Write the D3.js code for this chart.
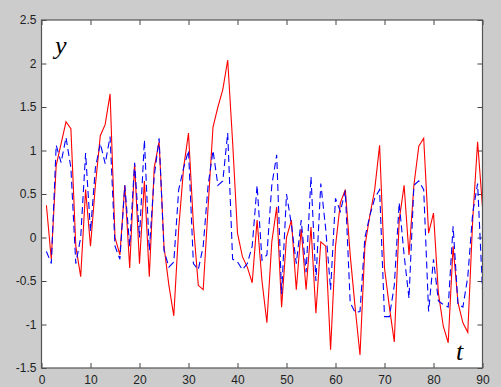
<!DOCTYPE html>
<html>
<head>
<meta charset="utf-8">
<script src="https://cdn.jsdelivr.net/npm/d3@7"></script>
<style>
  html, body { margin: 0; padding: 0; background: #cccccc; }
  svg { display: block; }
  .tick text { font-family: "Liberation Sans", Arial, sans-serif; font-size: 12px; fill: #222; }
  .tick line { stroke: #444; }
</style>
</head>
<body>
<svg width="501" height="387"></svg>
<script>
// x ticks / y ticks
const xTicks = [0, 10, 20, 30, 40, 50, 60, 70, 80, 90];
const yTicks = [-1.5, -1, -0.5, 0, 0.5, 1, 1.5, 2, 2.5];

// red solid series, t = 1..90
const redValues = [
  0.37, -0.25, 0.83, 1.08, 1.33, 1.25, -0.1, -0.45, 0.55, -0.1,
  0.6, 1.17, 1.3, 1.65, 0.0, -0.2, 0.6, -0.35, 0.85, -0.3,
  0.65, -0.45, 0.8, 1.1, -0.1, -0.55, -0.9, 0.1, 0.8, 1.2,
  0.15, -0.55, -0.6, 0.35, 1.27, 1.5, 1.7, 2.04, 1.1, 0.05,
  -0.22, -0.34, -0.52, 0.2, -0.5, -0.98, -0.05, 0.35, -0.8, 0.0,
  0.2, -0.6, 0.1, -0.6, 0.12, -0.87, -0.05, -0.1, -1.29, -0.1,
  0.4, 0.55, -0.2, -0.8, -1.35, -0.1, 0.25, 0.55, 1.06, -0.35,
  -0.8, -1.2, 0.2, 0.6, -0.2, 0.6, 1.05, 1.14, 0.05, 0.28,
  -0.64, -1.02, -1.21, -0.1, -0.75, -0.98, -1.09, 0.2, 1.1, 0.35
];

// blue dashed series, t = 1..90
const blueValues = [
  -0.16, -0.3, 1.06, 0.86, 1.15, 0.8, -0.3, 0.0, 0.97, 0.07,
  0.8, 1.08, 0.85, 1.16, -0.1, -0.25, 0.6, -0.1, 0.86, 0.0,
  1.12, -0.15, 0.7, 1.14, -0.15, -0.34, -0.28, 0.55, 0.8, 1.0,
  -0.3, -0.37, -0.1, 0.6, 1.0, 0.6, 0.65, 1.2, -0.25, -0.28,
  -0.37, -0.3, -0.1, 0.6, -0.26, -0.2, 0.6, 0.95, -0.65, 0.5,
  0.15, -0.3, 0.2, -0.4, 0.7, -0.5, 0.62, 0.1, -0.6, 0.45,
  0.3, 0.54, -0.75, -0.86, -0.85, 0.0, 0.25, 0.45, 0.55, -0.91,
  -0.91, -0.55, 0.4, -0.2, -0.7, 0.6, 0.65, 0.55, -0.85, -0.25,
  -0.73, -0.77, -0.8, 0.13, -0.77, -0.8, -0.45, 0.28, 0.62, -0.6
];

const plotLeft = 41.5, plotRight = 482.5, plotTop = 20, plotBottom = 368;

const svg = d3.select('svg');

const x = d3.scaleLinear().domain([0, 90]).range([plotLeft, plotRight]);
const y = d3.scaleLinear().domain([-1.5, 2.5]).range([plotBottom, plotTop]);

svg.append('rect')
  .attr('x', plotLeft).attr('y', plotTop)
  .attr('width', plotRight - plotLeft).attr('height', plotBottom - plotTop)
  .attr('fill', '#fff');

svg.append('clipPath').attr('id', 'plot-clip')
  .append('rect')
  .attr('x', plotLeft).attr('y', plotTop)
  .attr('width', plotRight - plotLeft).attr('height', plotBottom - plotTop);

const fmt = d => String(d);

svg.append('g')
  .attr('transform', 'translate(0,' + plotBottom + ')')
  .call(d3.axisBottom(x).tickValues(xTicks).tickFormat(fmt)
    .tickSizeInner(-5).tickSizeOuter(0).tickPadding(7));

svg.append('g')
  .attr('transform', 'translate(0,' + plotTop + ')')
  .call(d3.axisTop(x).tickValues(xTicks).tickFormat('')
    .tickSizeInner(-5).tickSizeOuter(0));

svg.append('g')
  .attr('transform', 'translate(' + plotLeft + ',0)')
  .call(d3.axisLeft(y).tickValues(yTicks).tickFormat(fmt)
    .tickSizeInner(-5).tickSizeOuter(0).tickPadding(5));

svg.append('g')
  .attr('transform', 'translate(' + plotRight + ',0)')
  .call(d3.axisRight(y).tickValues(yTicks).tickFormat('')
    .tickSizeInner(-5).tickSizeOuter(0));

svg.selectAll('.domain').remove();

const line = d3.line()
  .x((d, i) => x(i + 1))
  .y(d => y(d));

const plot = svg.append('g').attr('clip-path', 'url(#plot-clip)');

plot.append('path')
  .datum(redValues)
  .attr('fill', 'none')
  .attr('stroke', '#ff0000')
  .attr('stroke-width', 1.1)
  .attr('d', line);

plot.append('path')
  .datum(blueValues)
  .attr('fill', 'none')
  .attr('stroke', '#0000ff')
  .attr('stroke-width', 1.1)
  .attr('stroke-dasharray', '7,4')
  .attr('d', line);

// axes box
svg.append('rect')
  .attr('x', plotLeft).attr('y', plotTop)
  .attr('width', plotRight - plotLeft).attr('height', plotBottom - plotTop)
  .attr('fill', 'none')
  .attr('stroke', '#555')
  .attr('stroke-width', 1.2);

svg.append('text')
  .attr('x', 55).attr('y', 54)
  .attr('font-family', '"Liberation Serif", "Times New Roman", serif')
  .attr('font-style', 'italic')
  .attr('font-size', 26)
  .text('y');

svg.append('text')
  .attr('x', 456).attr('y', 360)
  .attr('font-family', '"Liberation Serif", "Times New Roman", serif')
  .attr('font-style', 'italic')
  .attr('font-size', 26)
  .text('t');
</script>
</body>
</html>
